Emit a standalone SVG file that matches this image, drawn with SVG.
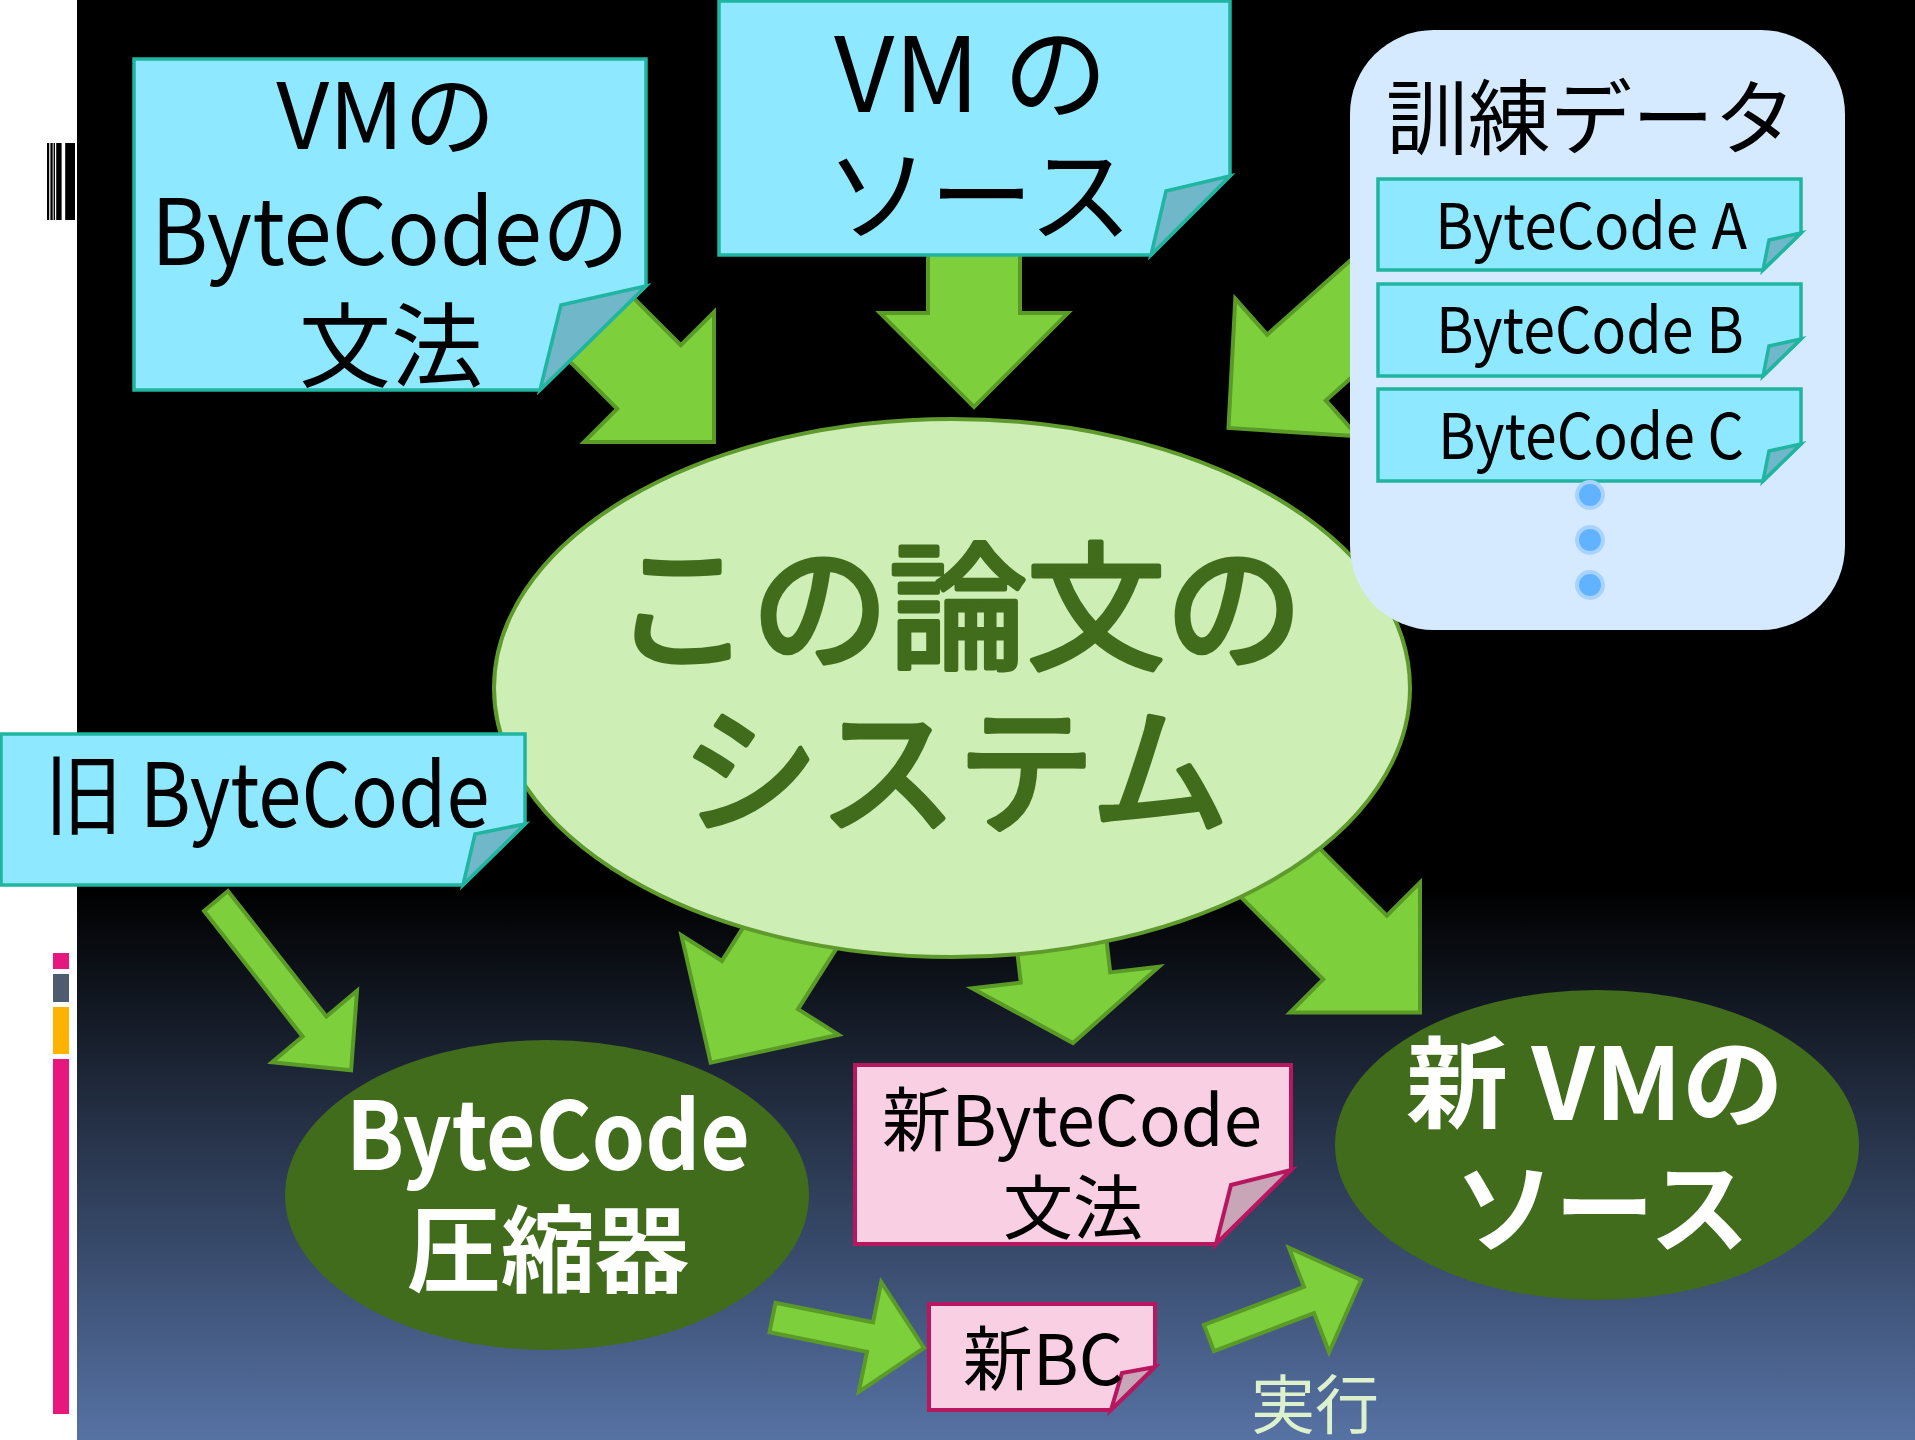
<svg xmlns="http://www.w3.org/2000/svg" width="1915" height="1440" viewBox="0 0 1915 1440">
<defs>
<linearGradient id="bg" gradientUnits="userSpaceOnUse" x1="0" y1="890" x2="0" y2="1440">
<stop offset="0" stop-color="#000000"/>
<stop offset="1" stop-color="#5672a4"/>
</linearGradient>
<style>
.arr{fill:#7dd03b;stroke:#5a9b27;stroke-width:4;stroke-linejoin:miter}
.note{fill:#8ee8ff;stroke:#1fb5a0;stroke-width:3.5;stroke-linejoin:miter}
.flap{fill:#70b7c9;stroke:#1fb5a0;stroke-width:3.5;stroke-linejoin:miter}
.pnote{fill:#f9cfe4;stroke:#b8175f;stroke-width:4;stroke-linejoin:miter}
.pflap{fill:#c9a5b8;stroke:#b8175f;stroke-width:4;stroke-linejoin:miter}
.t{font-family:"Noto Sans CJK JP","Noto Sans",sans-serif;text-anchor:middle;fill:#000}
.w{fill:#ffffff;font-weight:bold}
.g{fill:#416c1b;stroke:#416c1b;stroke-width:5;stroke-linejoin:round}
.dot{fill:#62b3ff;stroke:#a8d3ff;stroke-width:4}
</style>
</defs>

<!-- background -->
<rect x="0" y="0" width="1915" height="1440" fill="#ffffff"/>
<rect x="77" y="0" width="1838" height="1440" fill="url(#bg)"/>

<!-- left decorations -->
<g id="barcode" fill="#000">
<rect x="47" y="143" width="2.2" height="77"/>
<rect x="50.4" y="143" width="2.3" height="77"/>
<rect x="53.6" y="143" width="1.4" height="77"/>
<rect x="56.2" y="143" width="5.4" height="77"/>
<rect x="65.2" y="143" width="9.8" height="77"/>
</g>
<g id="sidebars">
<rect x="53" y="953" width="16" height="16" fill="#e8177d"/>
<rect x="53" y="974" width="16" height="28" fill="#4f5b6e"/>
<rect x="53" y="1007" width="16" height="47" fill="#ffb300"/>
<rect x="53" y="1059" width="16" height="355" fill="#e8177d"/>
</g>

<!-- connectors -->
<g id="connectors">
<polygon class="arr" points="511.2,302.8 617.2,408.8 584,442 714,442 714,312 680.8,345.2 574.8,239.2"/>
<polygon class="arr" points="928,200 928,313 880,313 974,407 1068,313 1020,313 1020,200"/>
<polygon class="arr" points="1437.8,300.6 1325.8,400.4 1357.7,436.2 1228.5,428 1235.3,298.8 1267.2,334.6 1379.2,234.8"/>
<polygon class="arr" points="204.1,911 302.6,1036.5 272,1062.2 351.1,1070.2 357,990.8 326.4,1016.5 227.9,891"/>
<polygon class="arr" points="894.5,857.1 798,1009.1 838.6,1034.8 710.7,1062.7 681.4,935.2 722,960.9 818.5,808.9"/>
<polygon class="arr" points="1006,853.4 1020.8,982.6 972.1,988.2 1073,1043 1158.9,966.8 1110.2,972.4 1095.4,843.2"/>
<polygon class="arr" points="1217.2,873.3 1323.2,979.3 1290,1012.5 1420,1012.5 1420,882.5 1386.8,915.7 1280.8,809.7"/>
<polygon class="arr" points="769.5,1332.2 867,1351.7 858.8,1391.9 924,1348 881.2,1282.1 873,1322.3 775.5,1302.8"/>
<polygon class="arr" points="1214,1351.1 1314,1313.1 1329.1,1352.3 1361,1280 1288.9,1247.7 1304,1286.9 1204,1324.9"/>
<text class="t" x="1315" y="1428" font-size="64" style="fill:#dcf1cc">実行</text>
</g>

<!-- center system -->
<g id="system">
<ellipse cx="952" cy="688" rx="458" ry="269" fill="#cdeeb4" stroke="#5f9a2c" stroke-width="4"/>
<text class="t g" x="958" y="658" font-size="138">この論文の</text>
<text class="t g" x="955" y="822" font-size="138">システム</text>
</g>

<!-- compressor -->
<g id="compressor">
<ellipse cx="547" cy="1195" rx="262" ry="155" fill="#416c1c"/>
<text class="t w" x="548" y="1170" font-size="94" textLength="404" lengthAdjust="spacingAndGlyphs">ByteCode</text>
<text class="t w" x="548" y="1285" font-size="94">圧縮器</text>
</g>

<!-- new VM source -->
<g id="newvm">
<ellipse cx="1597" cy="1145" rx="262" ry="155" fill="#416c1c"/>
<text class="t w" x="1595" y="1120" font-size="100" textLength="378" lengthAdjust="spacingAndGlyphs">新 VMの</text>
<text class="t w" x="1602" y="1245" font-size="100">ソース</text>
</g>

<!-- VM bytecode grammar note -->
<g id="vmgrammar">
<polygon class="note" points="134,59 646,59 646,286 540,390 134,390"/>
<polygon class="flap" points="646,286 561,305 540,390"/>
<text class="t" x="386" y="149" font-size="92">VMの</text>
<text class="t" x="390" y="265" font-size="92" textLength="478" lengthAdjust="spacingAndGlyphs">ByteCodeの</text>
<text class="t" x="391" y="380" font-size="92">文法</text>
</g>

<!-- VM source note -->
<g id="vmsource">
<polygon class="note" points="719,1 1230,1 1230,176 1151,255 719,255"/>
<polygon class="flap" points="1230,176 1166,191 1151,255"/>
<text class="t" x="971" y="112" font-size="104" textLength="274" lengthAdjust="spacingAndGlyphs">VM の</text>
<text class="t" x="979" y="234" font-size="104">ソース</text>
</g>

<!-- training data -->
<g id="training">
<rect x="1350" y="30" width="495" height="600" rx="84" ry="84" fill="#d5eaff"/>
<text class="t" x="1591" y="148" font-size="82">訓練データ</text>
<polygon class="note" points="1378,179 1801,179 1801,233 1763,270 1378,270"/>
<polygon class="flap" points="1801,233 1769,240 1763,270"/>
<text class="t" x="1591" y="249" font-size="63" textLength="312" lengthAdjust="spacingAndGlyphs">ByteCode A</text>
<polygon class="note" points="1378,284 1801,284 1801,339 1763,376 1378,376"/>
<polygon class="flap" points="1801,339 1769,346 1763,376"/>
<text class="t" x="1590" y="353" font-size="63" textLength="308" lengthAdjust="spacingAndGlyphs">ByteCode B</text>
<polygon class="note" points="1378,389 1801,389 1801,444 1763,481 1378,481"/>
<polygon class="flap" points="1801,444 1769,451 1763,481"/>
<text class="t" x="1591" y="459" font-size="63" textLength="306" lengthAdjust="spacingAndGlyphs">ByteCode C</text>
<circle class="dot" cx="1590" cy="495" r="13"/>
<circle class="dot" cx="1590" cy="540" r="13"/>
<circle class="dot" cx="1590" cy="585" r="13"/>
</g>

<!-- old bytecode -->
<g id="oldbc">
<polygon class="note" points="1,734 525,734 525,824 463,885 1,885"/>
<polygon class="flap" points="525,824 475,834 463,885"/>
<text class="t" x="267" y="827" font-size="88" textLength="445" lengthAdjust="spacingAndGlyphs">旧 ByteCode</text>
</g>

<!-- new bytecode grammar -->
<g id="newgrammar">
<polygon class="pnote" points="855,1065 1291,1065 1291,1170 1216,1244 855,1244"/>
<polygon class="pflap" points="1291,1170 1231,1185 1216,1244"/>
<text class="t" x="1072" y="1146" font-size="70" textLength="380" lengthAdjust="spacingAndGlyphs">新ByteCode</text>
<text class="t" x="1073" y="1234" font-size="70">文法</text>
</g>

<!-- new BC -->
<g id="newbc">
<polygon class="pnote" points="929,1304 1155,1304 1155,1367 1111,1410 929,1410"/>
<polygon class="pflap" points="1155,1367 1122,1373 1111,1410"/>
<text class="t" x="1043" y="1385" font-size="70">新BC</text>
</g>
</svg>
